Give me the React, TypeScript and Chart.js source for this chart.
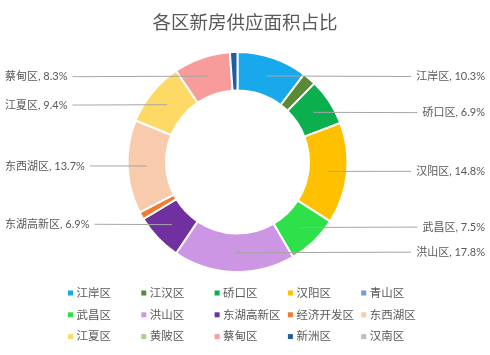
import React, { useEffect, useRef } from 'react';
import { Chart, registerables } from 'chart.js';

Chart.register(...registerables);

const title = '各区新房供应面积占比';
const categories = ['江岸区', '江汉区', '硚口区', '汉阳区', '青山区', '武昌区', '洪山区', '东湖高新区', '经济开发区', '东西湖区', '江夏区', '黄陂区', '蔡甸区', '新洲区', '汉南区'];
const shares = [10.3, 2.0, 6.9, 14.8, 0, 7.5, 17.8, 6.9, 1.1, 13.7, 9.4, 0, 8.3, 1.1, 0];
const showLabel = [true, false, true, true, false, true, true, true, false, true, true, false, true, false, false];
const colors = ['#17A9EC', '#5A8A34', '#0BAF4E', '#FFC000', '#6E9FD3', '#2EE04A', '#CC96E4', '#7030A0', '#ED7D31', '#F8CBAD', '#FFD966', '#A9D18E', '#F79B9B', '#1F5FA0', '#BFBFBF'];

const FONT = "Lato, 'Noto Sans CJK SC', sans-serif";
const TEXT = '#595959';
const LINE = '#A6A6A6';

const overlay = {
  id: 'overlay',
  afterDraw(chart: any) {
    const ctx = chart.ctx as CanvasRenderingContext2D;
    const meta = chart.getDatasetMeta(0);
    ctx.save();
    // title
    ctx.fillStyle = TEXT;
    ctx.font = `18.5px ${FONT}`;
    ctx.textAlign = 'center';
    ctx.textBaseline = 'middle';
    ctx.fillText(title, chart.width / 2, 23);

    // data labels with leader lines
    ctx.font = `11px ${FONT}`;
    meta.data.forEach((arc: any, i: number) => {
      if (!showLabel[i]) return;
      const p = arc.getProps(['x', 'y', 'startAngle', 'endAngle', 'innerRadius', 'outerRadius'], true);
      const mid = (p.startAngle + p.endAngle) / 2;
      const rr = (p.innerRadius + p.outerRadius) / 2;
      const px = p.x + rr * Math.cos(mid);
      const py = p.y + rr * Math.sin(mid);
      const ly = p.y + p.outerRadius * 0.82 * Math.sin(mid);
      const text = `${categories[i]}, ${shares[i].toFixed(1)}%`;
      const w = ctx.measureText(text).width;
      const right = Math.cos(mid) > -0.3;
      let lx: number;
      let tx: number;
      if (right) {
        tx = chart.width - 5 - w;
        lx = tx - 5;
      } else {
        tx = 5;
        lx = tx + w + 5;
      }
      ctx.strokeStyle = LINE;
      ctx.lineWidth = 1;
      ctx.beginPath();
      ctx.moveTo(px, py);
      ctx.lineTo(lx, ly);
      ctx.stroke();
      ctx.fillStyle = TEXT;
      ctx.textAlign = 'left';
      ctx.textBaseline = 'middle';
      ctx.fillText(text, tx, ly);
    });

    // legend grid
    ctx.font = `11.5px ${FONT}`;
    ctx.textAlign = 'left';
    ctx.textBaseline = 'middle';
    categories.forEach((name, i) => {
      const col = i % 5;
      const row = Math.floor(i / 5);
      const x = 68 + col * 73.3;
      const y = 293 + row * 21.8;
      ctx.fillStyle = colors[i];
      ctx.fillRect(x, y - 2.5, 5, 5);
      ctx.fillStyle = TEXT;
      ctx.fillText(name, x + 8.5, y);
    });
    ctx.restore();
  },
};

export default function App() {
  const ref = useRef<HTMLCanvasElement | null>(null);
  useEffect(() => {
    if (!ref.current) return;
    const chart = new Chart(ref.current, {
      type: 'doughnut',
      data: {
        labels: categories,
        datasets: [
          {
            data: shares,
            backgroundColor: colors,
            borderColor: '#FFFFFF',
            borderWidth: 2,
          },
        ],
      },
      options: {
        responsive: false,
        animation: false,
        devicePixelRatio: 1,
        cutout: '65%',
        layout: { padding: { left: 126.5, right: 141.5, top: 51, bottom: 82 } },
        plugins: {
          legend: { display: false },
          title: { display: false },
          tooltip: { enabled: false },
        },
      },
      plugins: [overlay],
    });
    return () => chart.destroy();
  }, []);
  return (
    <div style={{ position: 'absolute', left: 0, top: 0, width: 490, height: 355, background: '#fff' }}>
      <canvas ref={ref} width={490} height={355} />
    </div>
  );
}
